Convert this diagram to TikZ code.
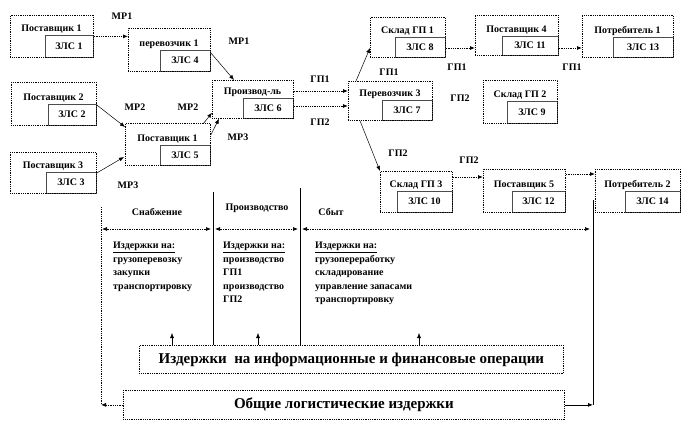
\documentclass[tikz,border=0pt]{standalone}
\usepackage{fontspec}
\setmainfont{Liberation Serif}
\usetikzlibrary{arrows.meta,calc}
\newcommand\zbox[9]{%
  \node[ibox, anchor=north west, minimum width={(#4-#6)*1pt}, minimum height={(#5-#7)*1pt}] (#1i) at (#6,#7) {};
  \node[obox, anchor=north west, minimum width={(#4-#2)*1pt}, minimum height={(#5-#3)*1pt}] (#1) at (#2,#3) {};
  \node[txt] (#1t) at ({(#2+#4)/2},{#7-6}) {#8};
  \node[txt] (#1s) at ({(#6+#4)/2},{(#7+#5)/2}) {#9};
}
\begin{document}
\begin{tikzpicture}[x=1pt,y=-1pt,
  obox/.style={draw=black, densely dotted, line width=0.8pt, inner sep=0pt},
  ibox/.style={draw=gray!60!black, line width=0.7pt, inner sep=0pt},
  txt/.style={font=\bfseries\fontsize{10}{12}\selectfont, inner sep=0pt},
  big/.style={font=\bfseries\fontsize{15}{17}\selectfont},
  tip/.style={-{Latex[length=5pt,width=4pt]}},
  conn/.style={tip, densely dotted, line width=0.8pt},
  dconn/.style={tip, line width=0.5pt},
  both/.style={{Latex[length=5pt,width=4pt]}-{Latex[length=5pt,width=4pt]}, densely dotted, line width=0.7pt},
  col/.style={font=\bfseries\fontsize{10}{13.5}\selectfont, align=left, anchor=north west, inner sep=0pt}
]
\useasboundingbox (0,0) rectangle (689,428);

% boxes
\zbox{A}{10}{15}{93}{57}{45}{35}{Поставщик 1}{ЗЛС 1}
\zbox{B}{128}{28}{210}{71}{160}{50}{перевозчик 1}{ЗЛС 4}
\zbox{C}{11}{82}{96}{125}{48}{104}{Поставщик 2}{ЗЛС 2}
\zbox{D}{125}{123}{210}{165}{160}{145}{Поставщик 1}{ЗЛС 5}
\zbox{E}{10}{152}{96}{193}{46}{172}{Поставщик 3}{ЗЛС 3}
\zbox{F}{212}{80}{293}{118}{243}{98}{Производ-ль}{ЗЛС 6}
\zbox{G}{348}{81}{432}{120}{382}{100}{Перевозчик 3}{ЗЛС 7}
\zbox{H}{370}{17}{445}{57}{395}{37}{Склад ГП 1}{ЗЛС 8}
\zbox{I}{483}{80}{557}{123}{507}{101}{Склад ГП 2}{ЗЛС 9}
\zbox{J}{380}{171}{452}{212}{397}{191}{Склад ГП 3}{ЗЛС 10}
\zbox{K}{475}{15}{558}{55}{502}{36}{Поставщик 4}{ЗЛС 11}
\zbox{L}{582}{15}{673}{57}{613}{37}{Потребитель 1}{ЗЛС 13}
\zbox{M}{483}{169}{565}{212}{512}{191}{Поставщик 5}{ЗЛС 12}
\zbox{N}{595}{169}{680}{212}{625}{191}{Потребитель 2}{ЗЛС 14}

% connectors
\draw[conn] (A.east) -- (A.east -| B.west);
\draw[dconn] ($(B.south east)+(0,-19)$) -- ($(F.north west)+(22,0)$);
\draw[dconn] ($(C.north east)+(0,23)$) -- ($(D.north west)+(0,4)$);
\draw[dconn] ($(E.north east)+(0,21)$) -- ($(D.north west)+(-1,34)$);
\draw[dconn] ($(D.north east)+(-7,0)$) -- ($(F.south west)+(0,-6)$);
\draw[dconn] ($(D.north east)+(0,12)$) -- ($(F.south west)+(7,0)$);
\draw[conn] ($(F.north east)+(0,11)$) coordinate (f1) -- (f1 -| G.west);
\draw[conn] ($(F.north east)+(0,26)$) coordinate (f2) -- (f2 -| G.west);
\draw[dconn] ($(G.north west)+(8,0)$) -- ($(H.north west)+(0,31)$);
\draw[dconn] ($(G.south west)+(12,0)$) -- (J.north west);
\draw[conn] ($(H.north east)+(0,31)$) coordinate (h1) -- (h1 -| K.west);
\draw[conn] ($(K.north east)+(0,33)$) coordinate (k1) -- (k1 -| L.west);
\draw[conn] ($(J.north east)+(0,6)$) coordinate (j1) -- (j1 -| M.west);
\draw[conn] ($(M.north east)+(0,5)$) coordinate (m1) -- (m1 -| N.west);

% flow labels
\node[txt] (l1) at (122,16) {МР1};
\node[txt] (l2) at (239,41) {МР1};
\node[txt] (l3) at (135,107) {МР2};
\node[txt] (l4) at (188,107) {МР2};
\node[txt] (l5) at (128,185) {МР3};
\node[txt] (l6) at (238,137) {МР3};
\node[txt] (l7) at (320,79) {ГП1};
\node[txt] (l8) at (320,122) {ГП2};
\node[txt] (l9) at (389,72) {ГП1};
\node[txt] (l10) at (398,153) {ГП2};
\node[txt] (l11) at (457,67) {ГП1};
\node[txt] (l12) at (572,67) {ГП1};
\node[txt] (l13) at (460,98) {ГП2};
\node[txt] (l14) at (469,160) {ГП2};

% bottom boxes
\node[obox, big, anchor=north west, minimum width=424pt, minimum height=28pt] (info) at (139,345) {Издержки\ \ на информационные и финансовые операции};
\node[obox, big, anchor=north west, minimum width=441pt, minimum height=29pt] (total) at (123,390) {Общие логистические издержки};

% section lines
\coordinate (v1) at (213,192);
\coordinate (v2) at (300,188);
\coordinate (vr) at (593,200);
\coordinate (vl) at (101,207);
\draw[line width=0.6pt] (v1) -- (v1 |- info.north);
\draw[line width=0.6pt] (v2) -- (v2 |- info.north);
\draw[line width=0.6pt] (vr) -- (vr |- total.east);
\draw[dconn, line width=0.8pt] (total.east) -- (total.east -| vr);
\draw[densely dotted, line width=0.8pt] (vl) -- (vl |- total.west);
\draw[conn] (total.west) -- (total.west -| vl);

% section arrows
\coordinate (s1) at (102,229);
\coordinate (s2) at (211,229);
\coordinate (s3) at (215,229);
\coordinate (s4) at (298,229);
\coordinate (s5) at (302,229);
\coordinate (s6) at (590,229);
\draw[both] (s1) -- (s2);
\draw[both] (s3) -- (s4);
\draw[both] (s5) -- (s6);

% up arrows
\draw[dconn] ($(info.north west)+(33,0)$) -- ++(0,-12);
\draw[dconn] ($(info.north west)+(119,0)$) -- ++(0,-12);
\draw[dconn] ($(info.north west)+(280,0)$) -- ++(0,-12);

% section titles
\node[txt] (t1) at (157,212) {Снабжение};
\node[txt] (t2) at (257,208) {Производство};
\node[txt] (t3) at (331,212) {Сбыт};

% cost columns
\node[col] (c1) at (113,242) {\underline{Издержки на:}\\грузоперевозку\\закупки\\транспортировку};
\node[col] (c2) at (223,242) {\underline{Издержки на:}\\производство\\ГП1\\производство\\ГП2};
\node[col] (c3) at (315,242) {\underline{Издержки на:}\\грузопереработку\\складирование\\управление запасами\\транспортировку};
\end{tikzpicture}
\end{document}
